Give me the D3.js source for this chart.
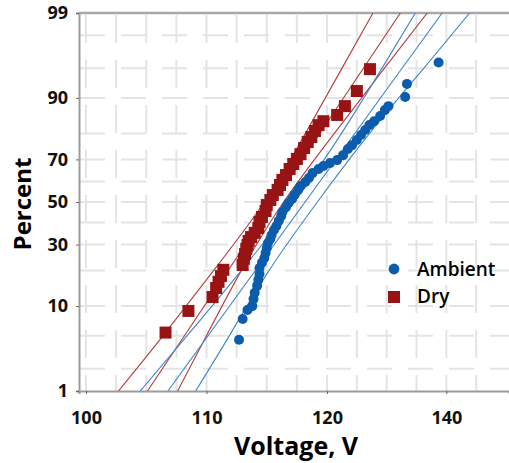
<!DOCTYPE html>
<html>
<head>
<meta charset="utf-8">
<script src="https://cdn.jsdelivr.net/npm/d3@7"></script>
<style>
  body { margin: 0; background: #fff; }
  svg { display: block; font-family: "Open Sans", sans-serif; }
</style>
</head>
<body>
<svg width="509" height="463"></svg>
<script>
// axis labels
var xTicks = [100, 110, 120, 140],
    yTicks = [1, 10, 30, 50, 70, 90, 99],
    xGrid = [100, 102.5, 105, 107.5, 110, 112.5, 115, 117.5, 120, 125, 130, 135, 140, 145],
    yGrid = [2, 5, 10, 20, 30, 40, 50, 60, 70, 80, 90, 95, 98];

// measured points (voltage, cumulative percent)
var ambientVolt = [112.7, 113.0, 113.4, 113.8, 113.9, 114.0, 114.2, 114.3, 114.4, 114.4,
                   114.6, 114.8, 114.9, 115.0, 115.1, 115.3, 115.4, 115.6, 115.8, 116.0,
                   116.2, 116.3, 116.6, 116.8, 117.1, 117.3, 117.6, 117.8, 118.2, 118.5,
                   118.8, 119.3, 119.7, 120.5, 121.7, 122.7, 123.5, 124.2, 125.0, 125.7,
                   126.4, 127.1, 127.9, 128.9, 129.7, 130.3, 133.1, 133.4, 138.7];
var ambientPct = [4.5, 7.5, 9.2, 10.0, 11.6, 13.2, 15.1, 16.9, 18.8, 20.8,
                  22.7, 24.5, 26.5, 28.6, 30.7, 32.5, 34.2, 36.5, 38.4, 40.8,
                  43.2, 45.1, 47.5, 49.5, 51.5, 53.4, 55.9, 57.8, 59.7, 61.6,
                  63.9, 65.8, 67.1, 68.4, 69.7, 71.8, 74.3, 75.8, 77.7, 79.5,
                  81.2, 82.8, 84.0, 85.5, 87.1, 88.1, 90.2, 92.7, 95.7];

var dryVolt = [106.6, 108.5, 110.5, 110.8, 111.0, 111.2, 111.4, 113.0, 113.1, 113.2,
               113.3, 113.4, 113.5, 113.7, 114.0, 114.3, 114.4, 114.6, 114.9, 115.0,
               115.3, 115.5, 115.9, 116.1, 116.3, 116.6, 116.9, 117.2, 117.5, 117.8,
               118.1, 118.4, 118.7, 119.0, 119.3, 119.7, 121.7, 123.0, 125.0, 127.2];
var dryPct = [5.4, 9.0, 12.1, 14.5, 16.3, 18.1, 20.2, 21.9, 24.2, 26.1,
              28.2, 29.8, 31.6, 33.3, 35.2, 37.4, 40.3, 42.7, 45.6, 48.5,
              51.0, 53.4, 55.9, 58.3, 60.7, 63.0, 65.8, 68.0, 70.2, 72.2,
              74.7, 77.0, 78.8, 80.9, 82.8, 84.0, 85.8, 88.1, 91.4, 94.9];

// fitted lines and 95% bounds
var fitPct = [1, 99],
    ciPct = [1, 5, 20, 50, 80, 95, 99];
var ambientFit = [106.8, 139.3],
    ambientLow = [104.5, 108.4, 112.9, 117.3, 122.4, 129.2, 134.8],
    ambientHigh = [109.1, 111.9, 115.2, 119.2, 127.1, 136.2, 143.9];
var dryFit = [105.1, 132.3],
    dryLow = [102.7, 106.4, 110.6, 114.8, 118.2, 122.5, 127.7],
    dryHigh = [107.6, 110.0, 112.9, 116.4, 121.2, 129.6, 136.8];

var blue = "#0b5cad", blueLine = "#3f86cc",
    red = "#981414", redLine = "#b53c3c";

// inverse normal cdf (Acklam)
function probit(p) {
  var a = [-3.969683028665376e+01, 2.209460984245205e+02, -2.759285104469687e+02,
           1.383577518672690e+02, -3.066479806614716e+01, 2.506628277459239e+00],
      b = [-5.447609879822406e+01, 1.615858368580409e+02, -1.556989798598866e+02,
           6.680131188771972e+01, -1.328068155288572e+01],
      c = [-7.784894002430293e-03, -3.223964580411365e-01, -2.400758277161838e+00,
           -2.549732539343734e+00, 4.374664141464968e+00, 2.938163982698783e+00],
      d = [7.784695709041462e-03, 3.224671290700398e-01, 2.445134137142996e+00,
           3.754408661907416e+00];
  var q, r;
  if (p < 0.02425) {
    q = Math.sqrt(-2 * Math.log(p));
    return (((((c[0]*q+c[1])*q+c[2])*q+c[3])*q+c[4])*q+c[5]) / ((((d[0]*q+d[1])*q+d[2])*q+d[3])*q+1);
  }
  if (p > 1 - 0.02425) {
    q = Math.sqrt(-2 * Math.log(1 - p));
    return -(((((c[0]*q+c[1])*q+c[2])*q+c[3])*q+c[4])*q+c[5]) / ((((d[0]*q+d[1])*q+d[2])*q+d[3])*q+1);
  }
  q = p - 0.5; r = q * q;
  return (((((a[0]*r+a[1])*r+a[2])*r+a[3])*r+a[4])*r+a[5])*q / (((((b[0]*r+b[1])*r+b[2])*r+b[3])*r+b[4])*r+1);
}

var svg = d3.select("svg"),
    plotLeft = 79, plotRight = 509, plotTop = 13, plotBottom = 391;

var x = d3.scaleLinear()
    .domain([99.42, 110, 120, 150.5])
    .range([plotLeft, 206.5, 327, plotRight]);

var z = d3.scaleLinear()
    .domain([probit(0.01), probit(0.99)])
    .range([plotBottom, plotTop]);

function y(pct) { return z(probit(pct / 100)); }

// grid
var grid = svg.append("g").attr("stroke", "#e4e4e4").attr("stroke-width", 2);
grid.selectAll(".vg").data(xGrid).enter().append("line")
    .attr("x1", function(d) { return x(d); })
    .attr("x2", function(d) { return x(d); })
    .attr("y1", plotTop + 2).attr("y2", plotBottom)
    .attr("stroke-dasharray", "28,17");
grid.selectAll(".hg").data(yGrid).enter().append("line")
    .attr("x1", plotLeft + 1).attr("x2", plotRight)
    .attr("y1", function(d) { return y(d); })
    .attr("y2", function(d) { return y(d); })
    .attr("stroke-dasharray", "25,16");

// axes
var xAxis = d3.axisBottom(x).tickValues(xTicks).tickSize(3).tickPadding(17)
    .tickFormat(d3.format("d"));
var yAxis = d3.axisLeft(z)
    .tickValues(yTicks.map(function(p) { return probit(p / 100); }))
    .tickSize(3).tickPadding(8)
    .tickFormat(function(d, i) { return yTicks[i]; });

var gx = svg.append("g").attr("transform", "translate(0," + plotBottom + ")").call(xAxis);
var gy = svg.append("g").attr("transform", "translate(" + plotLeft + ",0)").call(yAxis);

[gx, gy].forEach(function(g) {
  g.select(".domain").attr("stroke", "#9c9c9c").attr("stroke-width", 2);
  g.selectAll(".tick line").attr("stroke", "#666");
  g.selectAll(".tick text")
      .attr("fill", "#111")
      .style("font-size", "18px")
      .style("font-weight", "700")
      .style("font-family", "'Open Sans', sans-serif");
});

svg.append("line")
    .attr("x1", plotLeft).attr("x2", plotRight)
    .attr("y1", plotTop).attr("y2", plotTop)
    .attr("stroke", "#a8a8a8").attr("stroke-width", 2.5);

// lines
svg.append("clipPath").attr("id", "clip")
  .append("rect").attr("x", plotLeft).attr("y", plotTop)
    .attr("width", plotRight - plotLeft).attr("height", plotBottom - plotTop);

var curve = d3.line()
    .x(function(d) { return x(d[0]); })
    .y(function(d) { return y(d[1]); })
    .curve(d3.curveNatural);

var lines = [
  {v: dryLow, p: ciPct, c: redLine},
  {v: dryFit, p: fitPct, c: redLine},
  {v: dryHigh, p: ciPct, c: redLine},
  {v: ambientLow, p: ciPct, c: blueLine},
  {v: ambientFit, p: fitPct, c: blueLine},
  {v: ambientHigh, p: ciPct, c: blueLine}
];

svg.append("g").attr("clip-path", "url(#clip)")
  .selectAll("path").data(lines).enter().append("path")
    .attr("d", function(d) { return curve(d.v.map(function(v, i) { return [v, d.p[i]]; })); })
    .attr("fill", "none")
    .attr("stroke", function(d) { return d.c; })
    .attr("stroke-width", 1.1);

// points
svg.append("g").selectAll("circle").data(ambientVolt).enter().append("circle")
    .attr("cx", function(d) { return x(d); })
    .attr("cy", function(d, i) { return y(ambientPct[i]); })
    .attr("r", 5)
    .attr("fill", blue);

svg.append("g").selectAll("rect").data(dryVolt).enter().append("rect")
    .attr("x", function(d) { return x(d) - 6; })
    .attr("y", function(d, i) { return y(dryPct[i]) - 6; })
    .attr("width", 12).attr("height", 12)
    .attr("fill", red);

// legend
var legend = svg.append("g").attr("transform", "translate(394,269)")
    .style("font-size", "19px").style("font-weight", "600");
legend.append("circle").attr("r", 5.4).attr("fill", blue);
legend.append("text").attr("x", 23).attr("y", 6.5).text("Ambient");
legend.append("rect").attr("x", -6).attr("y", 22).attr("width", 12).attr("height", 12).attr("fill", red);
legend.append("text").attr("x", 23).attr("y", 34).text("Dry");

// titles
svg.append("text")
    .attr("transform", "translate(31,204) rotate(-90)")
    .attr("text-anchor", "middle")
    .style("font-size", "24px").style("font-weight", "700")
    .text("Percent");

svg.append("text")
    .attr("x", 296).attr("y", 455)
    .attr("text-anchor", "middle")
    .style("font-size", "25px").style("font-weight", "700")
    .text("Voltage, V");
</script>
</body>
</html>
